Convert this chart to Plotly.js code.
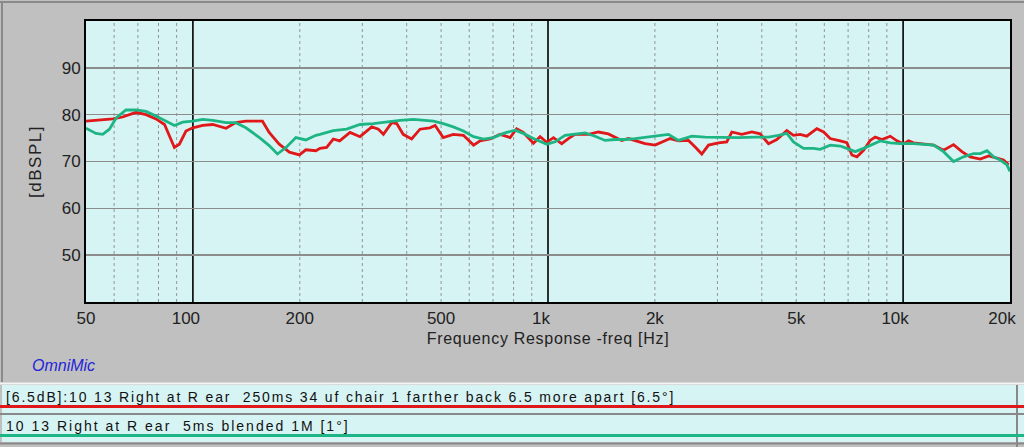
<!DOCTYPE html>
<html>
<head>
<meta charset="utf-8">
<script src="https://cdn.plot.ly/plotly-3.0.1.min.js"></script>
<style>
html,body{margin:0;padding:0;background:#c0c0c0;}
#chart{width:1024px;height:447px;}
</style>
</head>
<body>
<div id="chart"></div>
<script>
// ---- data ----
const redFreq = [50,55.7,59.5,63.4,69.2,73.8,78.7,83.2,85.9,88.7,91.6,95.6,99.9,106.6,113.7,124,132,141,157,164,175,187,199.5,208,222,228,238,248.5,259,277,295.5,319,333,344,363,375,391,413,436,465,481,507,541,578,617,644,687,733,782,816,852,910,950,992,1036,1093,1141,1191,1299,1387,1479,1545,1613,1685,1798,1876,2003,2092,2208,2330,2486,2597,2711,2831,3021,3187,3293,3514,3750,3958,4178,4408,4705,4912,5129,5355,5716,5973,6233,6652,6944,7174,7412,7738,8077,8345,8716,9199,9609,10030,10360,10700,11420,12190,13000,13870,14640,15450,16490,17410,18380,19180,19820];
const redDb = [78.6,79.0,79.1,79.5,80.5,80.0,79.1,77.9,75.5,73.0,73.7,76.5,77.2,77.7,77.9,77.1,78.3,78.6,78.6,76.2,73.7,72.0,71.4,72.5,72.3,72.8,73.0,74.8,74.4,76.2,75.3,77.4,76.9,75.8,78.3,78.1,75.8,74.8,76.9,77.2,77.7,75.1,75.8,75.6,73.5,74.4,74.8,75.8,75.1,77.0,76.2,73.9,75.3,74.1,75.1,73.8,74.9,75.8,75.8,76.3,75.9,75.2,74.5,74.9,74.2,73.8,73.5,74.2,74.9,74.4,74.5,73.1,71.6,73.5,74.0,74.2,76.3,75.8,76.3,75.9,73.8,74.7,76.6,75.6,75.8,75.4,77.0,76.3,74.9,74.4,74.0,71.4,71.0,72.4,74.5,75.2,74.7,75.4,74.4,73.8,74.4,74.0,73.7,73.5,72.4,73.6,72.1,71.0,70.5,71.2,70.7,70.3,69.3];
const greenFreq = [50,53.3,55.7,58.2,60.8,64.8,69.2,73.8,78.7,84.0,88.7,93.6,99.9,106.6,113.7,124,132,141,154,164,173,183,195,208,222,228,248.5,271,295.5,322,351,383,418,446,476,507,541,578,617,658,702,749,808,852,910,992,1047,1117,1191,1272,1357,1448,1545,1649,1759,1876,2003,2184,2330,2541,2769,3087,3440,3831,4178,4456,4705,4912,5241,5594,5841,6233,6652,6944,7333,7738,8256,8622,9199,9819,10700,11420,12190,13000,13870,14800,15800,16490,17230,17980,18780,19600,20000];
const greenDb = [77.1,76.0,75.8,76.9,79.3,81.0,81.0,80.7,79.7,78.6,77.7,78.4,78.6,79.0,78.8,78.3,78.3,77.2,75.1,73.4,71.6,73.0,75.1,74.6,75.6,75.8,76.6,76.9,77.9,78.1,78.5,78.8,79.0,78.8,78.6,78.1,77.4,76.5,75.3,74.8,75.1,76.0,76.7,76.0,74.9,73.7,74.2,75.6,75.9,76.1,75.4,74.5,74.7,74.7,74.9,75.2,75.4,75.8,74.5,75.4,75.2,75.1,75.1,75.2,75.2,75.6,76.0,74.2,72.8,72.8,72.6,73.5,73.3,72.8,72.1,72.8,73.8,74.4,74.0,73.8,73.8,73.7,73.5,72.1,70.0,71.0,71.7,71.7,72.3,71.0,70.3,69.3,67.9];

const xTickVals = [50,100,200,500,1000,2000,5000,10000,20000];
const xTickText = ['50','100','200','500','1k','2k','5k','10k','20k'];
const yTickVals = [50,60,70,80,90];
const majorGrid = [100,1000,10000];
const minorGrid = [60,70,80,90,200,300,400,500,600,700,800,900,2000,3000,4000,5000,6000,7000,8000,9000];

const redName = '[6.5dB]:10 13 Right at R ear  250ms 34 uf chair 1 farther back 6.5 more apart [6.5\u00b0]';
const greenName = '10 13 Right at R ear  5ms blended 1M [1\u00b0]';

// ---- layout helpers (pixel -> paper) ----
const W = 1024, H = 447, ML = 86, MR = 14, MT = 21, MB = 145;
const PW = W - ML - MR, PH = H - MT - MB;
const px = x => (x - ML) / PW;
const py = y => (H - MB - y) / PH;

const FONT = 'Liberation Sans, Arial, sans-serif';
const CYAN = '#d7f4f4';

const traces = [
  {x: redFreq, y: redDb, type: 'scatter', mode: 'lines', name: redName,
   line: {color: '#e0181a', width: 2.8}, showlegend: false},
  {x: greenFreq, y: greenDb, type: 'scatter', mode: 'lines', name: greenName,
   line: {color: '#1eb585', width: 2.8}, showlegend: false}
];

const shapes = [];
minorGrid.forEach(f => shapes.push({type:'line', xref:'x', yref:'paper', x0:f, x1:f, y0:0, y1:1,
  layer:'below', line:{color:'#949494', width:1, dash:'3px,3px'}}));
majorGrid.forEach(f => shapes.push({type:'line', xref:'x', yref:'paper', x0:f, x1:f, y0:0, y1:1,
  layer:'below', line:{color:'#000000', width:1.6}}));
// outer frame of the chart panel
shapes.push({type:'line', xref:'paper', yref:'paper', x0:px(0), x1:px(1024), y0:py(2), y1:py(2), line:{color:'#8a8a8a', width:2}});
shapes.push({type:'line', xref:'paper', yref:'paper', x0:px(2), x1:px(2), y0:py(2), y1:py(382), line:{color:'#8a8a8a', width:2}});
shapes.push({type:'line', xref:'paper', yref:'paper', x0:px(0), x1:px(1024), y0:py(383.5), y1:py(383.5), line:{color:'#f4f4f4', width:2}});
// legend rows
shapes.push({type:'rect', xref:'paper', yref:'paper', x0:px(2), x1:px(1024), y0:py(385), y1:py(413), line:{width:0}, fillcolor:CYAN});
shapes.push({type:'rect', xref:'paper', yref:'paper', x0:px(2), x1:px(1024), y0:py(415), y1:py(442), line:{width:0}, fillcolor:CYAN});
shapes.push({type:'line', xref:'paper', yref:'paper', x0:px(0), x1:px(1024), y0:py(414), y1:py(414), line:{color:'#888888', width:2}});
shapes.push({type:'line', xref:'paper', yref:'paper', x0:px(0), x1:px(1024), y0:py(443.5), y1:py(443.5), line:{color:'#888888', width:2}});
shapes.push({type:'line', xref:'paper', yref:'paper', x0:px(1017), x1:px(1017), y0:py(385), y1:py(447), line:{color:'#888888', width:2}});
shapes.push({type:'line', xref:'paper', yref:'paper', x0:px(0), x1:px(1024), y0:py(406.5), y1:py(406.5), line:{color:'#e0181a', width:3}});
shapes.push({type:'line', xref:'paper', yref:'paper', x0:px(0), x1:px(1024), y0:py(435.5), y1:py(435.5), line:{color:'#1eb585', width:3}});

const annotations = [
  {xref:'paper', yref:'paper', x:px(30), y:py(365), xanchor:'left', yanchor:'middle', showarrow:false,
   text:'<i>OmniMic</i>', font:{family:FONT, size:16, color:'#2626d8'}},
  {xref:'paper', yref:'paper', x:px(4), y:py(397), xanchor:'left', yanchor:'middle', showarrow:false,
   text:redName, font:{family:FONT, size:14, color:'#111111'}},
  {xref:'paper', yref:'paper', x:px(4), y:py(426), xanchor:'left', yanchor:'middle', showarrow:false,
   text:greenName, font:{family:FONT, size:14, color:'#111111'}}
];

const layout = {
  width: W, height: H,
  margin: {l: ML, r: MR, t: MT, b: MB, pad: 0},
  paper_bgcolor: '#c0c0c0',
  plot_bgcolor: CYAN,
  showlegend: false,
  font: {family: FONT, color: '#222222'},
  xaxis: {
    type: 'log', range: [Math.log10(50), Math.log10(20000)],
    tickmode: 'array', tickvals: xTickVals, ticktext: xTickText,
    ticklabeloverflow: 'allow',
    showgrid: false, zeroline: false, ticks: '',
    tickfont: {family: FONT, size: 17, color: '#222222'},
    showline: true, mirror: true, linecolor: '#000000', linewidth: 2,
    title: {text: 'Frequency Response -freq [Hz]', font: {family: FONT, size: 16, color: '#222222'}, standoff: 5}
  },
  yaxis: {
    range: [40, 100], tickmode: 'array', tickvals: yTickVals,
    showgrid: true, gridcolor: '#8c8c8c', gridwidth: 1.5, zeroline: false, ticks: '',
    tickfont: {family: FONT, size: 17, color: '#222222'},
    showline: true, mirror: true, linecolor: '#000000', linewidth: 2,
    title: {text: '[dBSPL]', font: {family: FONT, size: 17, color: '#222222'}, standoff: 16}
  },
  shapes: shapes,
  annotations: annotations
};

// widen a text element with letter spacing while keeping its left edge in place
function spaceText(el, spacing) {
  const before = el.getBBox().width;
  el.style.letterSpacing = spacing + 'px';
  const after = el.getBBox().width;
  const dx = (after - before) / 2;
  const x0 = parseFloat(el.getAttribute('x') || '0');
  el.setAttribute('x', x0 + dx);
  el.querySelectorAll('tspan[x]').forEach(t => t.setAttribute('x', parseFloat(t.getAttribute('x')) + dx));
}

Plotly.newPlot('chart', traces, layout, {displayModeBar: false, staticPlot: true}).then(function (gd) {
  const ann = gd.querySelectorAll('g.annotation text.annotation-text');
  if (ann[1]) spaceText(ann[1], 1.85);
  if (ann[2]) spaceText(ann[2], 2);
  const xt = gd.querySelector('text.xtitle');
  if (xt) xt.style.letterSpacing = '0.7px';
  const yt = gd.querySelector('text.ytitle');
  if (yt) yt.style.letterSpacing = '1.5px';
  // the reference draws these labels a little left of their grid lines
  const shift = {'100': -7, '1k': -7, '10k': -8, '20k': -8};
  gd.querySelectorAll('g.xtick text').forEach(t => {
    const s = shift[t.textContent];
    if (s) t.setAttribute('x', parseFloat(t.getAttribute('x') || '0') + s);
  });
});
</script>
</body>
</html>
